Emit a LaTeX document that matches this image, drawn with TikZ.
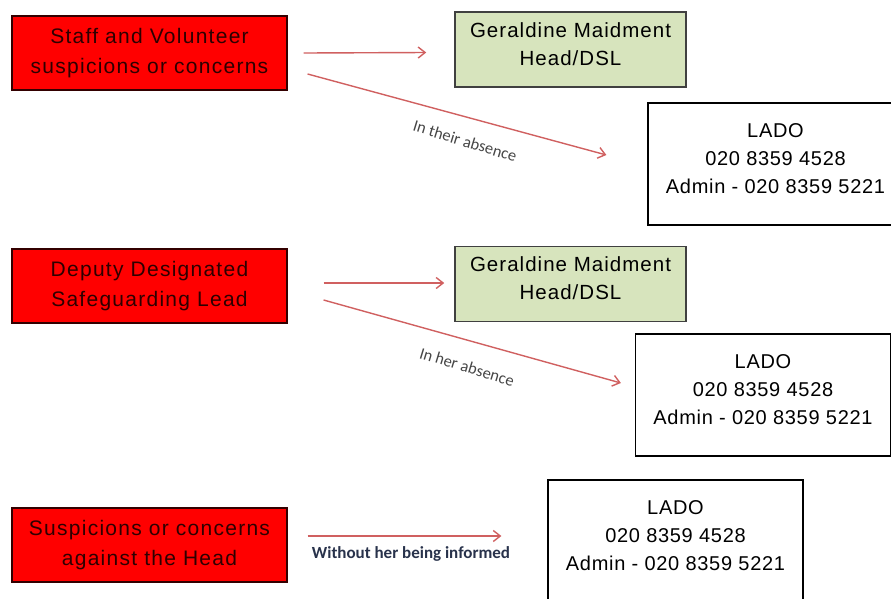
\documentclass[tikz,border=0pt]{standalone}
\usepackage{fontspec}
\setmainfont{Liberation Sans}
\newfontfamily\labfont{Carlito}
\usetikzlibrary{arrows.meta}
\definecolor{boxred}{RGB}{255,0,0}
\definecolor{boxgreen}{RGB}{215,228,189}
\definecolor{arrred}{RGB}{208,96,96}
\definecolor{labgray}{RGB}{70,70,70}
\definecolor{labblue}{RGB}{40,50,75}
\definecolor{redtext}{RGB}{45,0,0}
\tikzset{
    RB1/.style ={rectangle,minimum width = 275pt, minimum height = 74pt, inner sep=0pt, draw=black!80!red, line width=1.2pt, fill=boxred, align=center, text=redtext, font=\fontsize{21}{30}\selectfont\addfontfeature{LetterSpace=6}},
    GB1/.style ={rectangle,minimum width = 231pt, minimum height = 75pt, inner sep=0pt, draw=black!75, line width=1.5pt, fill=boxgreen, align=center, font=\fontsize{20.5}{28}\selectfont\addfontfeature{LetterSpace=5}, execute at end node=\rule[-11pt]{0pt}{0pt}},
    LB1/.style ={rectangle,minimum width = 255pt, minimum height = 122pt, inner sep=0pt, draw=black, line width=1.2pt, fill=white, align=center, font=\fontsize{20}{28}\selectfont\addfontfeature{LetterSpace=3.5}, execute at end node=\rule[-11pt]{0pt}{0pt}},
    AR1/.style ={draw=arrred, line width=1.4pt, -{Straight Barb[length=7pt,width=11pt]}},
    TX1/.style ={text=labgray, inner sep=1pt, font=\labfont\fontsize{16.5}{18}\selectfont}
}
\begin{document}
\begin{tikzpicture}[x=1pt,y=-1pt]
        \useasboundingbox (0,0) rectangle (891,598);
        \node[RB1] (staff) at (149.5,53) {Staff and Volunteer\\suspicions or concerns};
        \node[GB1] (gm1) at (570.5,49.5) {Geraldine Maidment\\Head/DSL};
        \node[LB1] (lado1) at (775.5,164) {LADO\\020 8359 4528\\Admin - 020 8359 5221};
        \node[RB1] (deputy) at (149.5,286) {Deputy Designated\\Safeguarding Lead};
        \node[GB1] (gm2) at (570.5,284) {Geraldine Maidment\\Head/DSL};
        \node[LB1] (lado2) at (763,395) {LADO\\020 8359 4528\\Admin - 020 8359 5221};
        \node[RB1] (head) at (149.5,545) {Suspicions or concerns\\against the Head};
        \node[LB1] (lado3) at (675.5,541) {LADO\\020 8359 4528\\Admin - 020 8359 5221};
        \draw[AR1] ([xshift=16pt]staff.east) -- ([xshift=-28pt,yshift=-3pt]gm1.west);
        \draw[AR1] ([xshift=20pt,yshift=-21pt]staff.east) -- ([xshift=-41pt,yshift=9pt]lado1.west);
        \draw[AR1] ([xshift=36pt,yshift=3pt]deputy.east) -- ([xshift=-10pt,yshift=1pt]gm2.west);
        \draw[AR1] ([xshift=36pt,yshift=-14pt]deputy.east) -- ([xshift=-14pt,yshift=12pt]lado2.west);
        \draw[AR1] ([xshift=20pt,yshift=9pt]head.east) -- ([xshift=-46pt,yshift=5pt]lado3.west);
        \node[TX1,rotate=-17] (abs1) at (465,141) {In their absence};
        \node[TX1,rotate=-17] (abs2) at (467,367) {In her absence};
        \node[text=labblue, font=\labfont\bfseries\fontsize{17}{19}\selectfont] (inf) at (411,554) {Without her being informed};
    \end{tikzpicture}
\end{document}
